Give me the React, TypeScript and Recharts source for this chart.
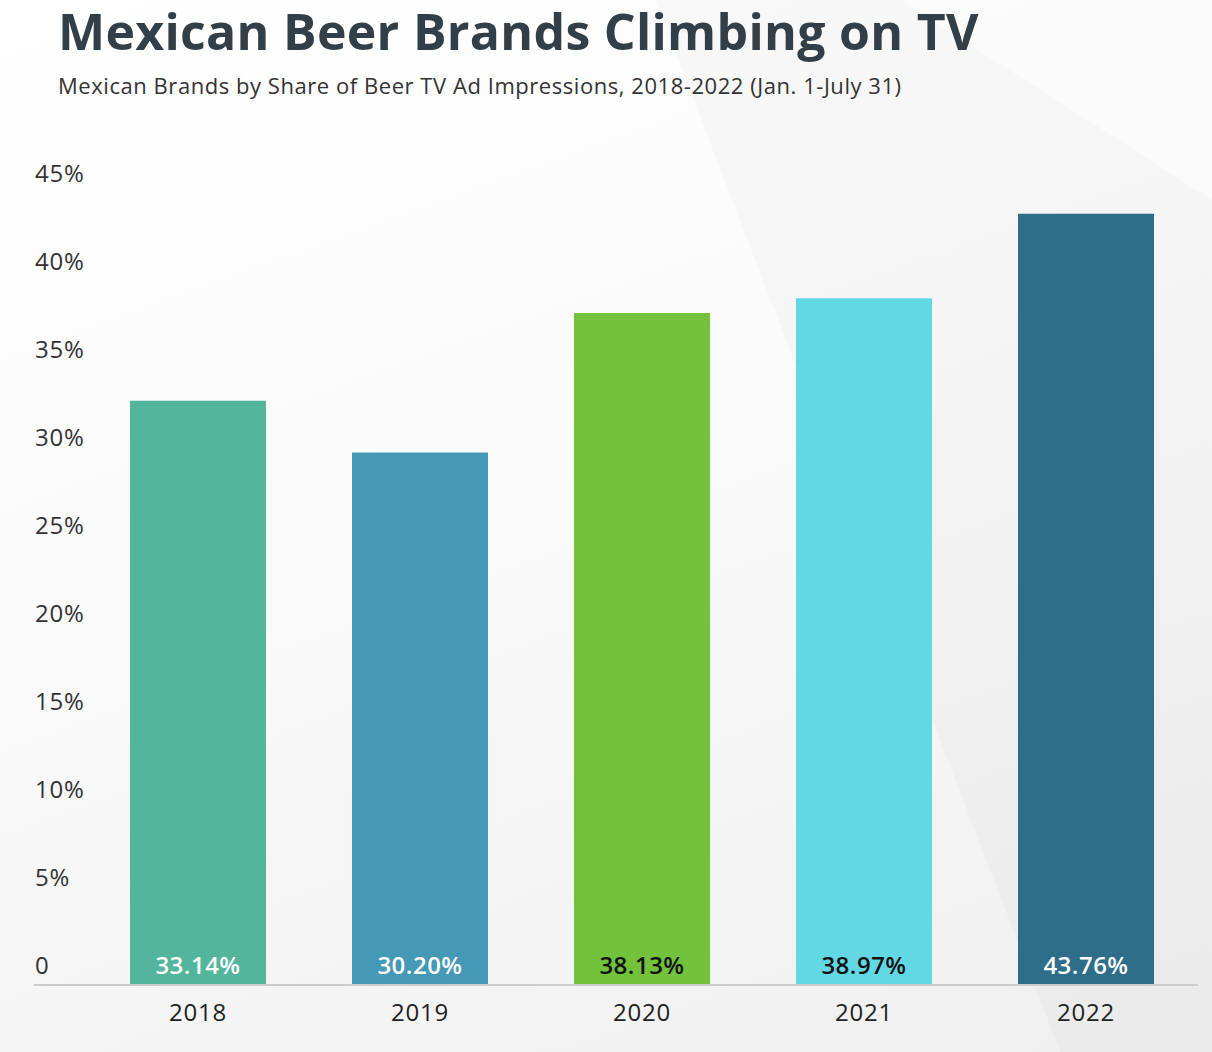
import React from "react";
import { BarChart, Bar, XAxis, YAxis, Cell, LabelList } from "recharts";

const years = ["2018", "2019", "2020", "2021", "2022"];
const shares = [33.14, 30.2, 38.13, 38.97, 43.76];
const barColors = ["#52b59c", "#4599b7", "#72c23b", "#62d8e4", "#2e6e8a"];
const labelColors = ["#ffffff", "#ffffff", "#111111", "#111111", "#ffffff"];
const yTicks = [0, 5, 10, 15, 20, 25, 30, 35, 40, 45];

const data = years.map((year, i) => ({ year, share: shares[i] }));

const FONT = "'Open Sans', Lato, sans-serif";

function YTick(props: any) {
  const { y, payload } = props;
  const v = payload.value;
  return (
    <g>
      {v === 0 && (
        <line x1={34} x2={1198} y1={y + 1} y2={y + 1} stroke="#cccccc" strokeWidth={2} />
      )}
      <text
        x={35}
        y={y - 18}
        dy="0.35em"
        textAnchor="start"
        fontSize={24}
        letterSpacing={0.8}
        fill="#333"
        fontFamily={FONT}
      >
        {v === 0 ? "0" : `${v}%`}
      </text>
    </g>
  );
}

function XTick(props: any) {
  const { x, y, payload } = props;
  return (
    <text
      x={x}
      y={y + 21}
      dy="0.35em"
      textAnchor="middle"
      fontSize={24}
      letterSpacing={0.8}
      fill="#222"
      fontFamily={FONT}
    >
      {payload.value}
    </text>
  );
}

function BarValue(props: any) {
  const { x, y, width, height, index, value } = props;
  return (
    <text
      x={x + width / 2}
      y={y + height - 18}
      dy="0.35em"
      textAnchor="middle"
      fontSize={24}
      fontWeight={600}
      letterSpacing={0.5}
      fill={labelColors[index]}
      fontFamily={FONT}
    >
      {value.toFixed(2)}%
    </text>
  );
}

export default function App() {
  return (
    <div
      style={{
        position: "absolute",
        left: 0,
        top: 0,
        width: 1212,
        height: 1052,
        background: "linear-gradient(160deg, #ffffff 0%, #fafafa 45%, #efefef 100%)",
        overflow: "hidden",
        fontFamily: FONT,
      }}
    >
      <svg
        width={1212}
        height={1052}
        style={{ position: "absolute", left: 0, top: 0 }}
      >
        <polygon points="655,0 1212,0 1212,1052 1060,1052" fill="#000" opacity={0.018} />
        <polygon points="900,0 1212,0 1212,200" fill="#fff" opacity={0.5} />
      </svg>
      <div
        style={{
          position: "absolute",
          left: 58,
          top: 1,
          fontSize: 50,
          lineHeight: "60px",
          fontWeight: 700,
          letterSpacing: 0.3,
          color: "#333f48",
          whiteSpace: "nowrap",
        }}
      >
        Mexican Beer Brands Climbing on TV
      </div>
      <div
        style={{
          position: "absolute",
          left: 58,
          top: 70,
          fontSize: 22,
          letterSpacing: 0.55,
          color: "#333",
          whiteSpace: "nowrap",
        }}
      >
        Mexican Brands by Share of Beer TV Ad Impressions, 2018-2022 (Jan. 1-July 31)
      </div>
      <div style={{ position: "absolute", left: 0, top: 0 }}>
        <BarChart
          width={1212}
          height={1052}
          data={data}
          margin={{ top: 192, right: 15, bottom: 0, left: 35 }}
        >
          <XAxis
            dataKey="year"
            axisLine={false}
            tickLine={false}
            tick={<XTick />}
            height={68}
            interval={0}
          />
          <YAxis
            domain={[0, 45]}
            ticks={yTicks}
            axisLine={false}
            tickLine={false}
            tick={<YTick />}
            width={52}
            interval={0}
          />
          <Bar dataKey="share" barSize={136} isAnimationActive={false}>
            {data.map((d, i) => (
              <Cell key={d.year} fill={barColors[i]} />
            ))}
            <LabelList dataKey="share" content={<BarValue />} />
          </Bar>
        </BarChart>
      </div>
    </div>
  );
}
